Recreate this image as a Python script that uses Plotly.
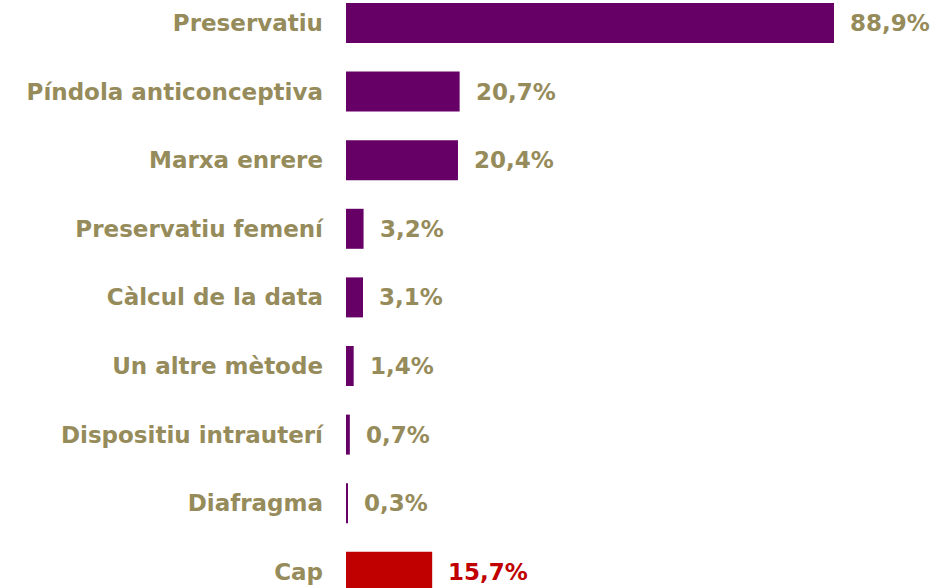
import plotly.graph_objects as go

categories = [
    "Preservatiu",
    "Píndola anticonceptiva",
    "Marxa enrere",
    "Preservatiu femení",
    "Càlcul de la data",
    "Un altre mètode",
    "Dispositiu intrauterí",
    "Diafragma",
    "Cap",
]
values = [88.9, 20.7, 20.4, 3.2, 3.1, 1.4, 0.7, 0.3, 15.7]

PURPLE = "#660066"
RED = "#C00000"
OLIVE = "#968B5A"
bar_colors = [RED if c == "Cap" else PURPLE for c in categories]
label_colors = [RED if c == "Cap" else OLIVE for c in categories]

FONT = "DejaVu Sans, Verdana, sans-serif"
FONT_SIZE = 23

fig = go.Figure(
    go.Bar(
        x=values,
        y=categories,
        orientation="h",
        marker=dict(color=bar_colors, line=dict(width=0)),
        width=0.583,
        hoverinfo="skip",
    )
)

for cat, val, col in zip(categories, values, label_colors):
    fig.add_annotation(
        x=val,
        y=cat,
        text=f"<b>{val:.1f}%</b>".replace(".", ","),
        showarrow=False,
        xanchor="left",
        yanchor="middle",
        xshift=14,
        font=dict(family=FONT, size=FONT_SIZE, color=col),
    )

fig.update_layout(
    width=935,
    height=588,
    margin=dict(l=346, r=0, t=0, b=0),
    paper_bgcolor="white",
    plot_bgcolor="white",
    showlegend=False,
    xaxis=dict(
        range=[0, 107.3],
        visible=False,
        fixedrange=True,
    ),
    yaxis=dict(
        type="category",
        categoryorder="array",
        categoryarray=categories,
        range=[8.236, -0.335],
        showgrid=False,
        zeroline=False,
        showline=False,
        ticks="",
        ticklabelstandoff=22,
        tickfont=dict(family=FONT, size=FONT_SIZE, color=OLIVE, weight="bold"),
        fixedrange=True,
    ),
)

fig.write_html("out.html")
